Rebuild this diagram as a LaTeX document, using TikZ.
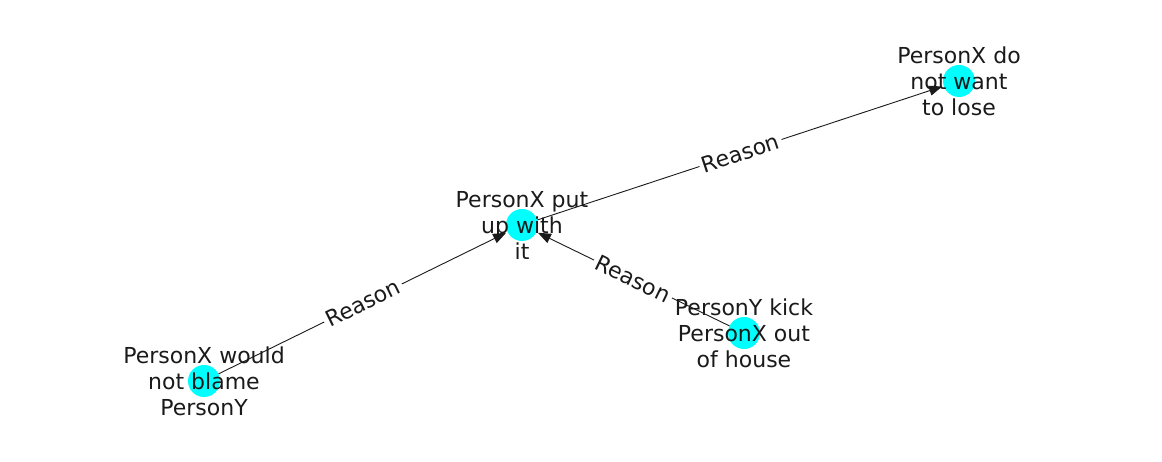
\documentclass[tikz,border=0pt]{standalone}
\usepackage{fontspec}
\setmainfont{DejaVu Sans}
\usetikzlibrary{arrows.meta}
\definecolor{nodecyan}{HTML}{00FFFF}
\definecolor{inkgray}{HTML}{1A1A1A}

\begin{document}
\begin{tikzpicture}[x=1pt,y=1pt,
  dot/.style={circle, fill=nodecyan, minimum size=32pt, inner sep=0pt},
  caption/.style={align=center, text=inkgray, font=\fontsize{22}{26}\selectfont},
  link/.style={draw=inkgray, line width=0.9pt, -{Triangle[length=13pt,width=10pt]}, shorten >=1.5pt},
  reason/.style={midway, sloped, fill=white, inner sep=3pt, text=inkgray, font=\fontsize{22}{26}\selectfont}]
\useasboundingbox (0,0) rectangle (1162,462);
% circles
\node[dot] (putup) at (522,237) {};
\node[dot] (lose) at (959,381) {};
\node[dot] (kick) at (744,129) {};
\node[dot] (blame) at (204,81) {};
% edges
\draw[link] (blame) -- node[reason] {Reason} (putup);
\draw[link] (kick) -- node[reason] {Reason} (putup);
\draw[link] (putup) -- node[reason] {Reason} (lose);
% texts
\node[caption] (putupText) at (putup) {PersonX put\\up with\\it};
\node[caption] (loseText) at (lose) {PersonX do\\not want\\to lose};
\node[caption] (kickText) at (kick) {PersonY kick\\PersonX out\\of house};
\node[caption] (blameText) at (blame) {PersonX would\\not blame\\PersonY};
\end{tikzpicture}
\end{document}
